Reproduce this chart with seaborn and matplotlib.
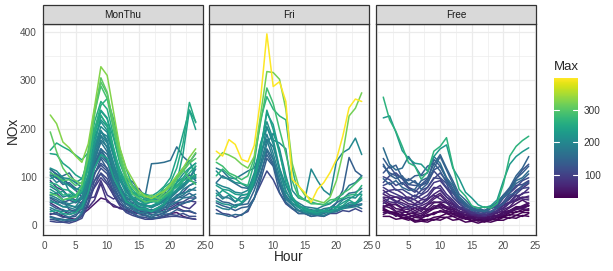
import numpy as np
import pandas as pd
import matplotlib
matplotlib.use("Agg")
import matplotlib.pyplot as plt
import seaborn as sns
from matplotlib.patches import Rectangle
from matplotlib.colors import Normalize
from matplotlib.cm import ScalarMappable

hours = list(range(1, 25))
facets = ["MonThu", "Fri", "Free"]

monthu = [
    [228, 210, 172, 160, 143, 130, 168, 245, 328, 310, 235, 160, 118, 95, 72, 60, 55, 63, 70, 85, 102, 118, 140, 158],
    [193, 152, 118, 100, 92, 85, 140, 228, 305, 275, 210, 150, 104, 78, 66, 58, 62, 55, 68, 80, 95, 112, 130, 150],
    [155, 170, 162, 155, 145, 135, 150, 190, 228, 205, 160, 112, 90, 74, 58, 62, 55, 60, 78, 88, 118, 170, 254, 212],
    [148, 146, 128, 118, 104, 96, 132, 186, 236, 220, 180, 128, 96, 82, 70, 64, 60, 68, 80, 98, 140, 190, 238, 198],
    [115, 106, 98, 82, 76, 68, 88, 118, 142, 128, 112, 100, 96, 90, 72, 60, 127, 128, 130, 134, 162, 142, 130, 148],
    [62, 66, 52, 32, 28, 48, 56, 58, 92, 62, 54, 62, 48, 44, 76, 58, 48, 56, 72, 50, 46, 38, 34, 46],
    [46, 38, 30, 22, 26, 34, 36, 52, 86, 48, 42, 34, 32, 28, 24, 26, 22, 20, 26, 32, 36, 30, 28, 24],
    [22, 26, 18, 14, 12, 22, 32, 44, 56, 52, 38, 36, 30, 26, 24, 20, 16, 14, 18, 24, 26, 18, 14, 12],
    [102, 88, 96, 70, 58, 66, 104, 160, 196, 176, 128, 92, 68, 58, 44, 40, 36, 42, 48, 58, 70, 78, 92, 88],
    [80, 72, 58, 62, 48, 56, 86, 142, 184, 160, 112, 82, 58, 52, 38, 36, 30, 36, 44, 52, 58, 74, 82, 88],
    [110, 96, 102, 108, 88, 78, 96, 128, 158, 146, 118, 92, 76, 58, 52, 44, 48, 52, 54, 62, 72, 82, 96, 104],
    [58, 52, 44, 42, 36, 46, 78, 132, 172, 152, 104, 72, 52, 42, 36, 28, 30, 28, 36, 48, 56, 62, 74, 72],
    [32, 24, 22, 16, 22, 28, 66, 124, 158, 134, 86, 62, 38, 32, 24, 22, 16, 22, 24, 32, 38, 46, 48, 56],
    [18, 14, 12, 8, 12, 22, 58, 104, 138, 116, 76, 52, 34, 26, 18, 20, 14, 16, 22, 24, 32, 28, 30, 24],
    [88, 84, 74, 72, 62, 78, 132, 214, 256, 240, 186, 132, 96, 68, 58, 48, 50, 46, 56, 66, 82, 96, 108, 122],
    [68, 62, 52, 54, 50, 72, 124, 198, 238, 222, 160, 104, 82, 58, 52, 44, 48, 50, 62, 68, 88, 98, 116, 128],
    [108, 102, 92, 94, 82, 88, 146, 232, 288, 262, 198, 142, 102, 82, 62, 62, 56, 64, 72, 84, 98, 116, 96, 84],
    [84, 76, 62, 64, 58, 72, 116, 198, 248, 262, 220, 158, 116, 82, 66, 54, 52, 56, 58, 72, 78, 92, 98, 104],
    [96, 102, 88, 82, 72, 82, 118, 172, 218, 204, 152, 116, 86, 68, 62, 54, 56, 58, 72, 78, 102, 118, 134, 98],
    [48, 46, 38, 40, 38, 56, 96, 162, 204, 192, 142, 96, 72, 54, 46, 42, 36, 44, 48, 62, 72, 92, 98, 96],
    [42, 34, 32, 26, 30, 42, 78, 126, 148, 132, 92, 66, 44, 40, 30, 32, 26, 30, 36, 44, 56, 58, 66, 58],
    [56, 48, 46, 52, 46, 54, 72, 108, 128, 118, 88, 72, 54, 52, 44, 42, 38, 46, 52, 58, 72, 84, 96, 104],
    [28, 30, 24, 22, 26, 36, 68, 118, 146, 138, 98, 72, 48, 42, 34, 34, 28, 36, 44, 62, 88, 148, 238, 214],
    [12, 10, 6, 8, 10, 18, 48, 92, 118, 106, 68, 46, 28, 24, 16, 16, 12, 16, 18, 22, 20, 24, 18, 18],
    [116, 104, 96, 84, 72, 58, 72, 92, 106, 88, 72, 54, 46, 38, 36, 30, 32, 30, 36, 38, 46, 48, 56, 56],
    [92, 78, 72, 58, 52, 44, 56, 78, 98, 84, 62, 44, 36, 28, 30, 24, 26, 26, 32, 34, 42, 44, 50, 48],
    [24, 22, 16, 16, 18, 36, 72, 108, 124, 112, 82, 54, 44, 34, 32, 26, 26, 28, 42, 48, 62, 68, 82, 88],
    [64, 62, 52, 56, 58, 82, 156, 240, 296, 272, 204, 136, 92, 64, 56, 48, 50, 50, 62, 72, 96, 112, 128, 138],
    [118, 112, 98, 96, 88, 96, 126, 182, 214, 196, 146, 112, 78, 66, 54, 52, 48, 56, 62, 76, 88, 106, 118, 128],
    [16, 12, 10, 12, 10, 26, 68, 136, 176, 162, 106, 72, 44, 36, 26, 26, 20, 26, 28, 42, 48, 56, 58, 64],
    [74, 66, 70, 58, 62, 68, 102, 168, 226, 208, 152, 96, 64, 52, 42, 38, 40, 46, 56, 64, 72, 86, 92, 100],
    [36, 30, 28, 30, 26, 40, 88, 152, 194, 172, 118, 76, 50, 40, 32, 30, 28, 32, 40, 56, 68, 82, 96, 116],
    [52, 44, 38, 36, 32, 44, 82, 144, 186, 170, 128, 82, 56, 46, 38, 32, 30, 34, 44, 52, 60, 66, 70, 78],
    [104, 98, 84, 88, 76, 70, 84, 118, 152, 138, 98, 72, 62, 56, 52, 48, 52, 58, 64, 70, 82, 92, 104, 92],
    [62, 56, 48, 44, 48, 60, 98, 156, 192, 184, 146, 102, 70, 56, 44, 40, 40, 42, 52, 60, 74, 84, 96, 122],
    [8, 6, 6, 4, 8, 14, 42, 82, 108, 96, 62, 40, 26, 20, 16, 12, 12, 14, 16, 18, 18, 16, 14, 12],
]

fri = [
    [153, 143, 177, 167, 136, 131, 165, 260, 396, 287, 297, 256, 95, 81, 67, 47, 74, 88, 109, 136, 184, 243, 261, 256],
    [135, 150, 145, 138, 126, 118, 142, 228, 318, 316, 302, 240, 128, 82, 62, 54, 50, 46, 58, 92, 148, 226, 242, 274],
    [102, 116, 104, 96, 86, 82, 128, 218, 266, 240, 226, 218, 118, 62, 52, 48, 44, 42, 46, 52, 56, 62, 64, 82],
    [86, 80, 76, 68, 66, 72, 108, 168, 202, 176, 170, 158, 72, 56, 52, 116, 92, 72, 62, 132, 150, 158, 180, 146],
    [60, 72, 64, 56, 48, 56, 92, 152, 238, 198, 148, 98, 58, 42, 32, 28, 26, 30, 28, 36, 40, 52, 44, 62],
    [50, 44, 42, 36, 46, 62, 98, 168, 214, 178, 118, 72, 46, 36, 28, 26, 22, 26, 28, 32, 34, 42, 44, 52],
    [40, 34, 32, 42, 44, 56, 88, 142, 188, 148, 102, 58, 42, 30, 26, 22, 22, 20, 26, 28, 34, 36, 38, 42],
    [72, 58, 56, 48, 62, 64, 86, 128, 176, 138, 92, 54, 42, 30, 30, 24, 26, 26, 32, 30, 36, 42, 44, 52],
    [46, 40, 36, 30, 36, 38, 56, 92, 138, 122, 68, 46, 34, 30, 24, 24, 20, 24, 30, 46, 72, 140, 112, 102],
    [24, 22, 18, 22, 20, 32, 54, 102, 154, 128, 82, 48, 36, 24, 24, 18, 20, 18, 26, 28, 36, 38, 40, 34],
    [112, 98, 96, 88, 86, 78, 96, 138, 204, 168, 112, 68, 52, 38, 36, 28, 30, 28, 36, 38, 52, 58, 56, 70],
    [88, 102, 94, 86, 78, 76, 84, 122, 158, 136, 88, 62, 44, 40, 34, 32, 28, 34, 36, 46, 54, 66, 68, 76],
    [118, 112, 98, 96, 104, 112, 118, 152, 178, 162, 118, 82, 54, 46, 38, 36, 34, 40, 44, 56, 64, 82, 88, 102],
    [130, 122, 108, 102, 94, 102, 138, 212, 284, 252, 198, 148, 92, 58, 52, 44, 44, 42, 52, 54, 66, 74, 86, 98],
    [32, 24, 22, 16, 22, 28, 56, 84, 112, 94, 66, 44, 34, 24, 24, 18, 20, 18, 24, 24, 30, 28, 34, 28],
    [56, 48, 46, 40, 42, 44, 72, 108, 146, 124, 86, 54, 42, 30, 30, 24, 26, 24, 30, 30, 40, 40, 42, 44],
    [66, 54, 62, 48, 56, 58, 82, 118, 168, 190, 158, 102, 58, 42, 30, 30, 24, 30, 28, 36, 38, 46, 46, 56],
    [82, 74, 72, 64, 62, 64, 102, 158, 232, 208, 152, 88, 56, 38, 36, 30, 32, 30, 36, 38, 46, 54, 62, 64],
]

free = [
    [265, 218, 194, 163, 129, 122, 95, 110, 153, 163, 181, 122, 74, 60, 40, 35, 38, 35, 45, 85, 143, 163, 175, 184],
    [222, 226, 192, 154, 138, 128, 126, 112, 142, 158, 166, 118, 96, 68, 56, 42, 36, 40, 52, 92, 126, 142, 152, 160],
    [160, 126, 114, 118, 142, 122, 102, 108, 142, 128, 98, 82, 58, 46, 34, 32, 28, 36, 44, 58, 68, 92, 98, 112],
    [138, 118, 124, 98, 92, 102, 104, 122, 128, 112, 88, 72, 52, 42, 30, 30, 28, 36, 42, 62, 74, 96, 108, 122],
    [122, 108, 102, 84, 96, 88, 82, 92, 136, 122, 96, 68, 52, 38, 36, 28, 30, 28, 36, 44, 62, 68, 82, 88],
    [100, 94, 82, 88, 76, 68, 82, 88, 112, 98, 86, 58, 46, 34, 32, 24, 26, 26, 36, 48, 66, 78, 92, 98],
    [88, 102, 108, 96, 78, 72, 64, 78, 98, 96, 78, 66, 48, 42, 34, 32, 28, 34, 38, 56, 68, 82, 84, 92],
    [126, 104, 96, 102, 84, 92, 74, 86, 118, 142, 114, 86, 58, 46, 34, 32, 30, 36, 48, 62, 74, 86, 94, 106],
    [82, 88, 72, 74, 66, 58, 72, 78, 96, 108, 92, 68, 52, 38, 36, 28, 30, 28, 36, 44, 56, 64, 76, 78],
    [72, 62, 58, 58, 52, 44, 52, 54, 62, 54, 46, 38, 36, 28, 26, 20, 22, 20, 30, 34, 46, 54, 66, 68],
    [58, 56, 58, 52, 44, 42, 34, 42, 54, 62, 48, 42, 28, 26, 20, 22, 18, 24, 24, 32, 38, 52, 58, 56],
    [52, 44, 42, 34, 32, 26, 32, 34, 46, 48, 46, 34, 30, 20, 22, 16, 20, 18, 26, 28, 36, 44, 52, 44],
    [40, 36, 28, 30, 24, 24, 18, 26, 34, 42, 34, 32, 24, 22, 16, 16, 14, 20, 20, 26, 28, 36, 38, 40],
    [30, 26, 26, 20, 22, 16, 20, 18, 26, 28, 30, 24, 22, 16, 16, 10, 14, 14, 20, 18, 26, 26, 32, 30],
    [31, 24, 22, 14, 14, 8, 12, 10, 16, 18, 24, 18, 20, 12, 14, 8, 12, 10, 16, 16, 22, 20, 26, 26],
    [33, 26, 24, 16, 16, 10, 8, 12, 10, 16, 16, 18, 12, 14, 8, 10, 6, 12, 10, 16, 14, 20, 18, 24],
    [35, 28, 26, 16, 14, 6, 8, 6, 12, 10, 16, 10, 12, 6, 8, 4, 8, 6, 10, 10, 16, 14, 20, 18],
    [36, 42, 28, 26, 28, 36, 28, 42, 48, 46, 38, 36, 28, 26, 18, 20, 14, 20, 18, 26, 28, 34, 34, 32],
    [56, 48, 46, 56, 58, 52, 44, 52, 64, 72, 58, 46, 34, 30, 22, 22, 18, 26, 28, 42, 48, 62, 54, 52],
    [44, 56, 48, 42, 34, 42, 44, 56, 74, 82, 64, 52, 38, 34, 26, 26, 20, 26, 28, 40, 46, 60, 64, 76],
    [66, 72, 74, 66, 54, 62, 54, 62, 78, 76, 58, 50, 36, 32, 24, 24, 20, 26, 30, 44, 54, 70, 76, 86],
    [26, 26, 20, 22, 16, 22, 20, 30, 36, 44, 36, 32, 22, 22, 14, 16, 12, 18, 18, 28, 30, 38, 38, 44],
    [18, 18, 12, 14, 10, 16, 14, 22, 22, 30, 24, 24, 16, 16, 10, 12, 8, 14, 12, 20, 20, 28, 28, 34],
    [38, 44, 34, 32, 24, 26, 24, 32, 34, 36, 28, 28, 20, 20, 14, 16, 12, 18, 18, 26, 26, 34, 34, 40],
    [108, 122, 104, 96, 84, 82, 84, 96, 114, 122, 98, 76, 54, 44, 34, 32, 28, 36, 40, 58, 74, 96, 114, 126],
    [96, 84, 92, 78, 72, 74, 92, 98, 126, 146, 118, 92, 64, 52, 38, 36, 30, 38, 44, 62, 78, 102, 118, 142],
    [48, 40, 44, 36, 38, 30, 36, 30, 40, 38, 34, 28, 26, 20, 18, 14, 16, 14, 20, 22, 30, 34, 40, 46],
    [22, 28, 18, 24, 16, 20, 14, 20, 24, 28, 26, 22, 18, 14, 14, 10, 10, 12, 16, 22, 26, 32, 36, 40],
    [64, 58, 50, 46, 40, 36, 40, 46, 58, 66, 52, 44, 34, 28, 22, 18, 18, 22, 28, 36, 46, 50, 56, 60],
    [78, 70, 64, 58, 50, 54, 62, 70, 88, 92, 76, 58, 44, 34, 28, 24, 24, 28, 34, 46, 58, 72, 80, 90],
]

x_ticks = [0, 5, 10, 15, 20, 25]
y_ticks = [0, 100, 200, 300, 400]
cbar_ticks = [100, 200, 300]

# Build long table
rows = []
uid = 0
for fname, lines in zip(facets, [monthu, fri, free]):
    for vals in lines:
        m = max(vals)
        for h, v in zip(hours, vals):
            rows.append((fname, uid, h, v, m))
        uid += 1
df = pd.DataFrame(rows, columns=["Type", "id", "Hour", "NOx", "Max"])

sns.set_style("white")
plt.rcParams["font.family"] = ["Liberation Sans", "DejaVu Sans"]

vmin, vmax = df["Max"].min(), df["Max"].max()
norm = Normalize(vmin=vmin, vmax=vmax)

W, H = 613, 271
fig = plt.figure(figsize=(W / 100, H / 100), dpi=100)

panel_lefts = [43, 209, 376]
pw = 160
ptop, pbot = 24, 235
strip_h = 19

axes = []
for i, (fname, left) in enumerate(zip(facets, panel_lefts)):
    ax = fig.add_axes([left / W, 1 - pbot / H, pw / W, (pbot - ptop) / H])
    axes.append(ax)
    sub = df[df["Type"] == fname].sort_values(["id", "Hour"])
    sns.lineplot(data=sub, x="Hour", y="NOx", hue="Max", units="id", estimator=None,
                 palette="viridis", hue_norm=norm, legend=False, ax=ax, lw=1.1, sort=False)
    ax.set_xlim(-0.15, 25.15)
    ax.set_ylim(-20.6, 416.5)
    ax.set_xticks(x_ticks)
    ax.set_xticklabels([str(t) for t in x_ticks])
    ax.set_yticks(y_ticks)
    ax.set_xticks([2.5, 7.5, 12.5, 17.5, 22.5], minor=True)
    ax.set_yticks([50, 150, 250, 350], minor=True)
    ax.grid(which="major", color="#EBEBEB", lw=0.9)
    ax.grid(which="minor", color="#EBEBEB", lw=0.45)
    ax.set_axisbelow(True)
    for s in ax.spines.values():
        s.set_color("#333333")
        s.set_linewidth(0.9)
    ax.tick_params(axis="both", which="major", direction="out", length=3, width=0.8,
                   color="#333333", labelsize=7.2, labelcolor="#4D4D4D", pad=1.5)
    ax.tick_params(axis="both", which="minor", length=0)
    if i > 0:
        ax.set_yticklabels([])
    else:
        ax.set_yticklabels([str(t) for t in y_ticks])
    ax.set_xlabel("")
    ax.set_ylabel("")
    # strip
    sh = strip_h / (pbot - ptop)
    ax.add_patch(Rectangle((0, 1), 1, sh, transform=ax.transAxes, clip_on=False,
                           facecolor="#D9D9D9", edgecolor="#333333", lw=0.9, zorder=5))
    ax.text(0.5, 1 + sh / 2, fname, transform=ax.transAxes, ha="center", va="center",
            fontsize=7.2, color="#1A1A1A", zorder=6)

fig.text(13 / W, 1 - 130 / H, "NOx", ha="center", va="center", rotation=90, fontsize=9.8)
fig.text((43 + 535) / 2 / W, 1 - 257 / H, "Hour", ha="center", va="center", fontsize=9.8)

# colorbar
cax = fig.add_axes([554 / W, 1 - 197.7 / H, 24.3 / W, 119.4 / H])
sm = ScalarMappable(norm=norm, cmap="viridis")
cb = fig.colorbar(sm, cax=cax, ticks=cbar_ticks)
cb.outline.set_visible(False)
cax.tick_params(length=0, labelsize=7.2, labelcolor="#333333", pad=4)
tr = cax.get_yaxis_transform()
for t in cbar_ticks:
    cax.plot([0, 0.2], [t, t], color="white", lw=0.8, transform=tr)
    cax.plot([0.8, 1.0], [t, t], color="white", lw=0.8, transform=tr)
fig.text(554 / W, 1 - 67 / H, "Max", ha="left", va="center", fontsize=9.5)

fig.savefig("out.png", dpi=100)
